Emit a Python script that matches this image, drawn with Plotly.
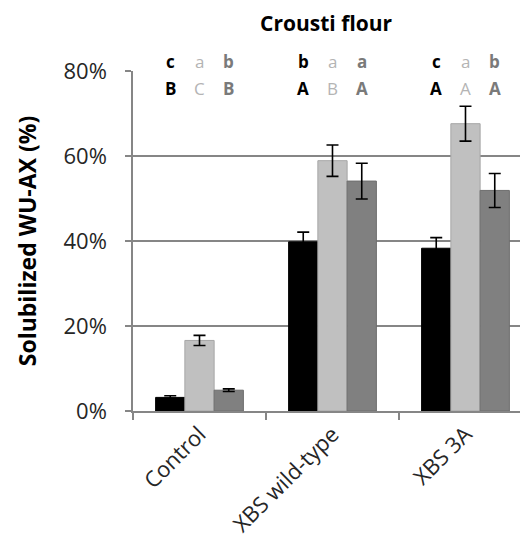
import plotly.graph_objects as go

categories = ["Control", "XBS wild-type", "XBS 3A"]
series_names = ["Series 1", "Series 2", "Series 3"]
values = [
    [3.2, 39.8, 38.3],
    [16.6, 58.9, 67.6],
    [4.9, 54.1, 51.9],
]
errors = [
    [0.4, 2.3, 2.5],
    [1.2, 3.7, 4.1],
    [0.3, 4.2, 4.0],
]
top_letters = [["c", "a", "b"], ["b", "a", "a"], ["c", "a", "b"]]
bottom_letters = [["B", "C", "B"], ["A", "B", "A"], ["A", "A", "A"]]
y_ticks = [0, 20, 40, 60, 80]

colors = ["#000000", "#c0c0c0", "#808080"]
line_colors = ["#000000", "#a6a6a6", "#6e6e6e"]
letter_colors = ["#000000", "#b4b4b4", "#7a7a7a"]
font = "Open Sans"

fig = go.Figure()
for i in range(3):
    fig.add_trace(go.Bar(
        x=categories, y=values[i], name=series_names[i],
        marker=dict(color=colors[i], line=dict(color=line_colors[i], width=1)),
        error_y=dict(type="data", array=errors[i], color="#000000", thickness=1.6, width=6),
    ))

# plot area: 395 x 340 px; paper coords for the text rows above it
plot_h = 340.0
def py(px_above_top):
    return 1 + px_above_top / plot_h

offsets = [-0.22, 0.0, 0.22]
annotations = []
for c in range(3):
    for s in range(3):
        t1 = top_letters[c][s]
        t2 = bottom_letters[c][s]
        if s != 1:
            t1 = "<b>%s</b>" % t1
            t2 = "<b>%s</b>" % t2
        annotations.append(dict(x=c + offsets[s], y=py(10), xref="x", yref="paper", yanchor="middle",
                                text=t1, showarrow=False,
                                font=dict(family=font, size=17, color=letter_colors[s])))
        annotations.append(dict(x=c + offsets[s], y=76.0, xref="x", yref="y", yanchor="middle",
                                text=t2, showarrow=False,
                                font=dict(family=font, size=17, color=letter_colors[s])))
annotations.append(dict(x=(326 - 133) / 395.0, y=py(48), xref="paper", yref="paper", yanchor="middle",
                        text="<b>Crousti flour</b>", showarrow=False,
                        font=dict(family=font, size=21, color="#000000")))

fig.update_layout(
    width=520, height=551,
    margin=dict(l=125, r=0, t=63, b=148),
    paper_bgcolor="white", plot_bgcolor="white",
    barmode="group", bargap=0.34, bargroupgap=0,
    showlegend=False,
    annotations=annotations,
    font=dict(family=font, size=15, color="#333333"),
)
fig.update_xaxes(
    range=[-0.5, 2.47], tickangle=-45, tickson="boundaries", ticks="outside", ticklen=7,
    tickcolor="#868686", tickwidth=1.5, showline=True, linecolor="#868686", linewidth=1.5,
    showgrid=False, tickfont=dict(family=font, size=22, color="#262626"),
)
fig.update_yaxes(
    range=[0, 80], tickvals=y_ticks, ticktext=["%d%%" % v for v in y_ticks],
    ticks="outside", ticklen=6, tickcolor="#868686", tickwidth=1.5,
    ticklabelstandoff=14,
    showline=True, linecolor="#868686", linewidth=1.5,
    showgrid=True, gridcolor="#868686", gridwidth=1.5, zeroline=False,
    title=dict(text="<b>Solubilized WU-AX (%)</b>", font=dict(family=font, size=23, color="#000000"), standoff=20),
    tickfont=dict(family=font, size=22, color="#262626"),
)

fig.write_html("out.html")
